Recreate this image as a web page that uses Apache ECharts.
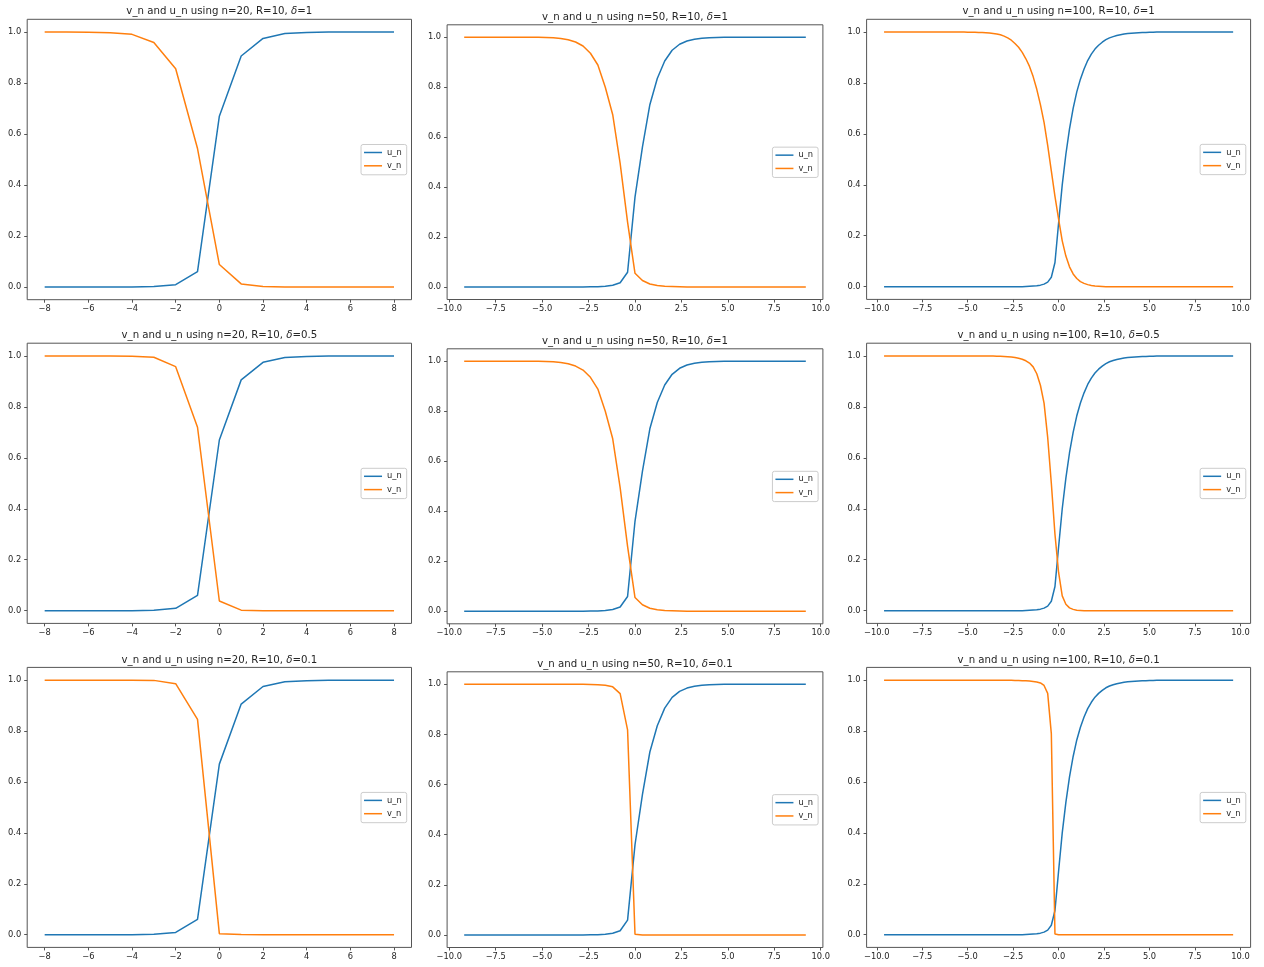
<!DOCTYPE html>
<html>
<head>
<meta charset="utf-8">
<script src="https://cdn.jsdelivr.net/npm/echarts@6/dist/echarts.min.js"></script>
<style>
  html, body { margin: 0; background: #fff; }
  #chart { width: 1264px; height: 967px; }
</style>
</head>
<body>
<div id="chart"></div>
<script>
// x grids (h = 2R/n)
const X20 = [-8, -7, -6, -5, -4, -3, -2, -1, 0, 1, 2, 3, 4, 5, 6, 7, 8]
const X50 = [-9.2, -8.8, -8.4, -8.0, -7.6, -7.2, -6.8, -6.4, -6.0, -5.6, -5.2, -4.8, -4.4, -4.0, -3.6, -3.2,
  -2.8, -2.4, -2.0, -1.6, -1.2, -0.8, -0.4, 0, 0.4, 0.8, 1.2, 1.6, 2.0, 2.4, 2.8, 3.2, 3.6, 4.0, 4.4, 4.8,
  5.2, 5.6, 6.0, 6.4, 6.8, 7.2, 7.6, 8.0, 8.4, 8.8, 9.2]
const X100 = [-9.6, -9.4, -9.2, -9.0, -8.8, -8.6, -8.4, -8.2, -8.0, -7.8, -7.6, -7.4, -7.2, -7.0, -6.8, -6.6,
  -6.4, -6.2, -6.0, -5.8, -5.6, -5.4, -5.2, -5.0, -4.8, -4.6, -4.4, -4.2, -4.0, -3.8, -3.6, -3.4, -3.2, -3.0,
  -2.8, -2.6, -2.4, -2.2, -2.0, -1.8, -1.6, -1.4, -1.2, -1.0, -0.8, -0.6, -0.4, -0.2, 0, 0.2, 0.4, 0.6, 0.8,
  1.0, 1.2, 1.4, 1.6, 1.8, 2.0, 2.2, 2.4, 2.6, 2.8, 3.0, 3.2, 3.4, 3.6, 3.8, 4.0, 4.2, 4.4, 4.6, 4.8, 5.0,
  5.2, 5.4, 5.6, 5.8, 6.0, 6.2, 6.4, 6.6, 6.8, 7.0, 7.2, 7.4, 7.6, 7.8, 8.0, 8.2, 8.4, 8.6, 8.8, 9.0, 9.2,
  9.4, 9.6]

// u_n (same for every delta)
const U20 = [0, 0, 0, 0, 0, 0.002, 0.009, 0.06, 0.67, 0.906, 0.975, 0.994, 0.998, 1, 1, 1, 1]
const U50 = [0, 0, 0, 0, 0, 0, 0, 0, 0, 0, 0, 0, 0, 0, 0, 0, 0, 0.001, 0.001, 0.003, 0.007, 0.017, 0.059,
  0.36, 0.56, 0.73, 0.835, 0.905, 0.948, 0.972, 0.985, 0.992, 0.996, 0.998, 0.999,
  1, 1, 1, 1, 1, 1, 1, 1, 1, 1, 1, 1]
const U100 = [0, 0, 0, 0, 0, 0, 0, 0, 0, 0, 0, 0, 0, 0, 0, 0, 0, 0, 0, 0, 0, 0, 0, 0, 0, 0, 0, 0, 0, 0, 0, 0,
  0, 0, 0, 0, 0, 0, 0, 0.001, 0.002, 0.003, 0.004, 0.006, 0.01, 0.018, 0.037, 0.095, 0.25, 0.40, 0.52, 0.62,
  0.70, 0.765, 0.815, 0.855, 0.888, 0.913, 0.933, 0.948, 0.96, 0.97, 0.977, 0.982, 0.986, 0.989, 0.992,
  0.994, 0.995, 0.996, 0.997, 0.998, 0.998, 0.999, 0.999,
  1, 1, 1, 1, 1, 1, 1, 1, 1, 1, 1, 1, 1, 1, 1, 1, 1, 1, 1, 1, 1, 1]

// v_n per (n, delta)
const V20_D1 = [1, 1, 0.999, 0.997, 0.991, 0.959, 0.856, 0.543, 0.088, 0.012, 0.002, 0, 0, 0, 0, 0, 0]
const V20_D05 = [1, 1, 1, 1, 0.999, 0.995, 0.958, 0.72, 0.038, 0.002, 0, 0, 0, 0, 0, 0, 0]
const V20_D01 = [1, 1, 1, 1, 1, 0.999, 0.986, 0.846, 0.004, 0.001, 0, 0, 0, 0, 0, 0, 0]
const V50_D1 = [1, 1, 1, 1, 1, 1, 1, 1, 1, 1, 1, 0.999, 0.998, 0.995, 0.99, 0.981, 0.965, 0.936, 0.889,
  0.80, 0.69, 0.495, 0.26, 0.055, 0.026, 0.012, 0.006, 0.003, 0.002, 0.001,
  0, 0, 0, 0, 0, 0, 0, 0, 0, 0, 0, 0, 0, 0, 0, 0, 0]
const V50_D01 = [1, 1, 1, 1, 1, 1, 1, 1, 1, 1, 1, 1, 1, 1, 1, 1, 1, 0.999, 0.998, 0.996, 0.99, 0.963, 0.818,
  0.003, 0, 0, 0, 0, 0, 0, 0, 0, 0, 0, 0, 0, 0, 0, 0, 0, 0, 0, 0, 0, 0, 0, 0]
const V100_D1 = [1, 1, 1, 1, 1, 1, 1, 1, 1, 1, 1, 1, 1, 1, 1, 1, 1, 1, 1, 1, 1, 1, 1,
  0.999, 0.999, 0.999, 0.998, 0.998, 0.997, 0.996, 0.994, 0.992, 0.989, 0.984, 0.977, 0.968, 0.955, 0.94,
  0.92, 0.895, 0.865, 0.825, 0.775, 0.715, 0.645, 0.555, 0.455, 0.355, 0.265, 0.18, 0.12, 0.078, 0.05,
  0.032, 0.02, 0.013, 0.008, 0.005, 0.003, 0.002, 0.001,
  0, 0, 0, 0, 0, 0, 0, 0, 0, 0, 0, 0, 0, 0, 0, 0, 0, 0, 0, 0, 0, 0, 0, 0, 0, 0, 0, 0, 0, 0, 0, 0, 0, 0, 0, 0]
const V100_D05 = [1, 1, 1, 1, 1, 1, 1, 1, 1, 1, 1, 1, 1, 1, 1, 1, 1, 1, 1, 1, 1, 1, 1, 1, 1, 1, 1, 1, 1, 1, 1,
  0.999, 0.999, 0.998, 0.997, 0.996, 0.994, 0.991, 0.987, 0.981, 0.972, 0.957, 0.93, 0.885, 0.815, 0.68,
  0.50, 0.30, 0.15, 0.058, 0.025, 0.011, 0.005, 0.002, 0.001,
  0, 0, 0, 0, 0, 0, 0, 0, 0, 0, 0, 0, 0, 0, 0, 0, 0, 0, 0, 0, 0, 0, 0, 0, 0, 0, 0, 0, 0, 0, 0, 0, 0, 0, 0, 0,
  0, 0, 0, 0, 0, 0]
const V100_D01 = [1, 1, 1, 1, 1, 1, 1, 1, 1, 1, 1, 1, 1, 1, 1, 1, 1, 1, 1, 1, 1, 1, 1, 1, 1, 1, 1, 1, 1, 1, 1,
  1, 1, 1, 1, 1, 0.999, 0.999, 0.998, 0.998, 0.997, 0.995, 0.993, 0.989, 0.979, 0.948, 0.79, 0.003,
  0, 0, 0, 0, 0, 0, 0, 0, 0, 0, 0, 0, 0, 0, 0, 0, 0, 0, 0, 0, 0, 0, 0, 0, 0, 0, 0, 0, 0, 0, 0, 0, 0, 0, 0, 0,
  0, 0, 0, 0, 0, 0, 0, 0, 0, 0, 0, 0, 0]

// tick values
const XTICKS_20 = [-8, -6, -4, -2, 0, 2, 4, 6, 8]
const XTICKS_WIDE = [-10, -7.5, -5, -2.5, 0, 2.5, 5, 7.5, 10]
const YTICKS = [0, 0.2, 0.4, 0.6, 0.8, 1.0]

// row-major, 3x3
const panels = [
  { n: 20, delta: '1', x: X20, u: U20, v: V20_D1 },
  { n: 50, delta: '1', x: X50, u: U50, v: V50_D1 },
  { n: 100, delta: '1', x: X100, u: U100, v: V100_D1 },
  { n: 20, delta: '0.5', x: X20, u: U20, v: V20_D05 },
  { n: 50, delta: '1', x: X50, u: U50, v: V50_D1 },
  { n: 100, delta: '0.5', x: X100, u: U100, v: V100_D05 },
  { n: 20, delta: '0.1', x: X20, u: U20, v: V20_D01 },
  { n: 50, delta: '0.1', x: X50, u: U50, v: V50_D01 },
  { n: 100, delta: '0.1', x: X100, u: U100, v: V100_D01 },
]

// axes boxes [left, top, right, bottom] in px, matching the tight_layout of the original figure
const boxes = [
  [27.2, 19.3, 411.5, 299.7], [447.1, 24.8, 822.9, 299.5], [866.6, 19.3, 1250.6, 299.4],
  [27.2, 343.2, 411.5, 623.4], [447.1, 348.8, 822.9, 623.8], [866.6, 343.2, 1250.6, 623.4],
  [27.2, 667.4, 411.5, 947.4], [447.1, 671.8, 822.9, 947.5], [866.6, 667.4, 1250.6, 947.4],
]

const FONT = 'DejaVu Sans'
const SPINE = '#555'
const TXT = '#262626'
const BLUE = '#1f77b4'
const ORANGE = '#ff7f0e'

const minus = (s) => s.replace('-', '\u2212')

function buildOption() {
  const grid = [], xAxis = [], yAxis = [], series = [], title = [], legend = []

  panels.forEach((p, i) => {
    const [l, t, r, b] = boxes[i]
    const xMin = p.x[0], xMax = p.x[p.x.length - 1]
    const pad = (xMax - xMin) * 0.05
    const xticks = p.n === 20 ? XTICKS_20 : XTICKS_WIDE

    grid.push({
      left: l, top: t, width: r - l, height: b - t,
      show: true, borderColor: SPINE, borderWidth: 1, backgroundColor: '#fff',
      outerBoundsMode: 'none',
    })

    xAxis.push({
      type: 'value', gridIndex: i, position: 'bottom', min: xMin - pad, max: xMax + pad,
      axisLine: { show: false, onZero: false },
      splitLine: { show: false },
      axisTick: { show: true, length: 3, lineStyle: { color: SPINE }, customValues: xticks },
      axisLabel: {
        color: TXT, fontFamily: FONT, fontSize: 8.3, margin: 5,
        customValues: xticks,
        formatter: (v) => minus(p.n === 20 ? String(Math.round(v)) : v.toFixed(1)),
      },
    })

    yAxis.push({
      type: 'value', gridIndex: i, position: 'left', min: -0.05, max: 1.05,
      axisLine: { show: false, onZero: false },
      splitLine: { show: false },
      axisTick: { show: true, length: 3, lineStyle: { color: SPINE }, customValues: YTICKS },
      axisLabel: {
        color: TXT, fontFamily: FONT, fontSize: 8.3, margin: 6,
        customValues: YTICKS,
        formatter: (v) => v.toFixed(1),
      },
    })

    series.push({
      name: 'u_n', type: 'line', xAxisIndex: i, yAxisIndex: i,
      data: p.x.map((x, k) => [x, p.u[k]]),
      showSymbol: false, silent: true,
      lineStyle: { color: BLUE, width: 1.5 }, itemStyle: { color: BLUE },
    })
    series.push({
      name: 'v_n', type: 'line', xAxisIndex: i, yAxisIndex: i,
      data: p.x.map((x, k) => [x, p.v[k]]),
      showSymbol: false, silent: true,
      lineStyle: { color: ORANGE, width: 1.5 }, itemStyle: { color: ORANGE },
    })

    title.push({
      text: `v_n and u_n using n=${p.n}, R=10, {d|δ}=${p.delta}`,
      left: (l + r) / 2, top: t - 12.5, textAlign: 'center', padding: 0,
      textStyle: {
        fontFamily: FONT, fontSize: 10.2, fontWeight: 'normal', color: TXT,
        rich: { d: { fontFamily: FONT, fontSize: 10.2, fontStyle: 'italic', color: TXT } },
      },
    })

    legend.push({
      data: ['u_n', 'v_n'], orient: 'vertical', selectedMode: false,
      right: 1264 - (r - 4.8), top: (t + b) / 2 - 15,
      icon: 'rect', itemWidth: 18, itemHeight: 1.5, itemGap: 3.3, itemTextGap: 7,
      padding: [3, 5, 4, 3],
      backgroundColor: 'rgba(255,255,255,0.8)', borderColor: '#cccccc', borderWidth: 1, borderRadius: 2,
      textStyle: { fontFamily: FONT, fontSize: 8.3, lineHeight: 10, color: TXT },
    })
  })

  return { animation: false, backgroundColor: '#fff', grid, xAxis, yAxis, series, title, legend }
}

const chart = echarts.init(document.getElementById('chart'))
chart.setOption(buildOption())
</script>
</body>
</html>
